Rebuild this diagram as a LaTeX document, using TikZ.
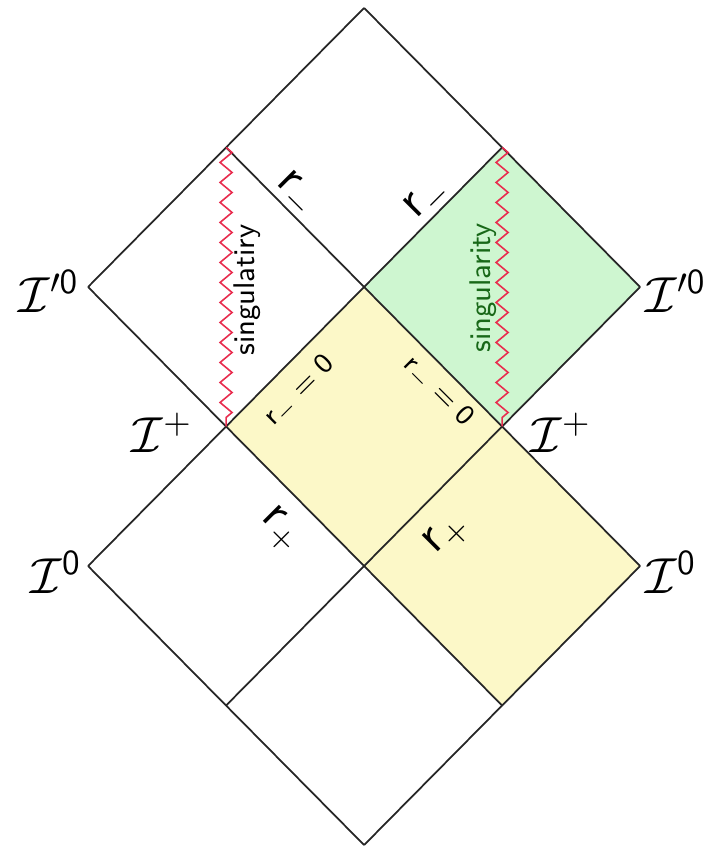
\documentclass[tikz,border=0pt]{standalone}
\usepackage{amsmath, amssymb}
\usepackage{tikz}
\usetikzlibrary{decorations.pathmorphing}

\definecolor{regyellow}{RGB}{252,248,200}
\definecolor{reggreen}{RGB}{206,246,208}
\definecolor{singred}{RGB}{232,44,78}
\definecolor{singgreen}{RGB}{24,104,24}

\begin{document}
\begin{tikzpicture}[
  x=1.38cm,
  y=1.395cm,
  edge/.style={draw=black!85,line width=0.5pt},
  wavy/.style={draw=singred,line width=0.45pt,decorate,
    decoration={zigzag,segment length=2mm,amplitude=0.6mm}},
  inside/.style={fill=regyellow},
  beyond/.style={fill=reggreen},
  infty/.style={font=\Large,inner sep=0pt},
  hor/.style={font=\fontsize{13.5}{15}\selectfont,inner sep=0pt},
  hzero/.style={font=\footnotesize,inner sep=0pt},
  lab/.style={font=\fontsize{8.5}{10}\selectfont\sffamily,inner sep=0pt}
]
\useasboundingbox (-0.638,-0.057) rectangle (4.558,6.057);
% lattice points
\coordinate (top) at (2,6);
\coordinate (sngl) at (1,5);
\coordinate (sngr) at (3,5);
\coordinate (ipzl) at (0,4);
\coordinate (mid) at (2,4);
\coordinate (ipzr) at (4,4);
\coordinate (iplusl) at (1,3);
\coordinate (iplusr) at (3,3);
\coordinate (izl) at (0,2);
\coordinate (low) at (2,2);
\coordinate (izr) at (4,2);
\coordinate (bl) at (1,1);
\coordinate (br) at (3,1);
\coordinate (bot) at (2,0);
% regions
\path[inside] (iplusl) -- (mid) -- (iplusr) -- (izr) -- (br) -- (low) -- cycle;
\path[beyond] (mid) -- (sngr) -- (ipzr) -- (iplusr) -- cycle;
% horizons and boundaries
\foreach \a/\b in {top/ipzr,sngl/izr,ipzl/br,izl/bot,ipzl/top,izl/sngr,bl/ipzr,bot/izr} {
  \draw[edge] (\a) -- (\b);
}
\draw[wavy] (sngl) -- (iplusl);
\draw[wavy] (sngr) -- (iplusr);
% infinities
\node[infty,anchor=base east] (lipz) at (-0.06,3.82) {$\mathcal{I}'^{\mathsf{0}}$};
\node[infty,anchor=base west] (ripz) at (4.036,3.82) {$\mathcal{I}'^{\mathsf{0}}$};
\node[infty,anchor=base east] (liplus) at (0.761,2.817) {$\mathcal{I}^{+}$};
\node[infty,anchor=base west] (riplus) at (3.203,2.817) {$\mathcal{I}^{+}$};
\node[infty,anchor=base east] (liz) at (-0.043,1.806) {$\mathcal{I}^{\mathsf{0}}$};
\node[infty,anchor=base west] (riz) at (4.036,1.806) {$\mathcal{I}^{\mathsf{0}}$};
% horizon labels
\node[hor,rotate=-45] (rml) at (1.50,4.66) {$\mathsf{r}_-$};
\node[hor,rotate=45] (rmr) at (2.464,4.624) {$\mathsf{r}_-$};
\node[hor,rotate=-45] (rpl) at (1.391,2.258) {$\mathsf{r}_+$};
\node[hor,rotate=45] (rpr) at (2.601,2.222) {$\mathsf{r}_+$};
\node[hzero,rotate=45] (rzl) at (1.536,3.247) {$\mathsf{r}_- = \mathsf{0}$};
\node[hzero,rotate=-45] (rzr) at (2.529,3.247) {$\mathsf{r}_- = \mathsf{0}$};
% singularities
\node[lab,rotate=90] (singl) at (1.152,3.978) {singulatiry};
\node[lab,rotate=90,text=singgreen] (singr) at (2.862,3.993) {singularity};
\end{tikzpicture}
\end{document}
